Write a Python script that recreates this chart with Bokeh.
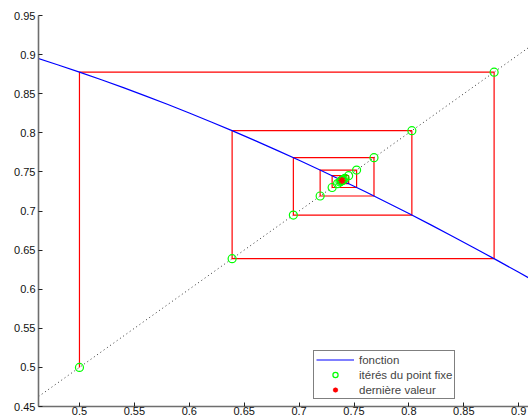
from bokeh.plotting import figure
from bokeh.models import FixedTicker, Legend, LegendItem
from bokeh.embed import file_html
from bokeh.resources import INLINE

# Curve f(x) = cos(x), sampled
curve_x = [0.46, 0.48, 0.50, 0.52, 0.54, 0.56, 0.58, 0.60, 0.62, 0.64, 0.66, 0.68,
           0.70, 0.72, 0.74, 0.76, 0.78, 0.80, 0.82, 0.84, 0.86, 0.88, 0.90, 0.92]
curve_y = [0.896052, 0.886995, 0.877583, 0.867819, 0.857709, 0.847255, 0.836463,
           0.825336, 0.813878, 0.802096, 0.789992, 0.777573, 0.764842, 0.751806,
           0.738469, 0.724836, 0.710914, 0.696707, 0.682221, 0.667463, 0.652437,
           0.637151, 0.621610, 0.605820]

# Fixed-point iterates x_{n+1} = cos(x_n), starting from 0.5
iterates = [0.5, 0.877583, 0.639012, 0.802685, 0.694778, 0.768196, 0.719165,
            0.752356, 0.730081, 0.745120, 0.735006, 0.741827, 0.737236, 0.740330,
            0.738246, 0.739650, 0.738705, 0.739341, 0.738912, 0.739201, 0.739007]

# Diagonal y = x
diag = [0.4627, 0.92]

x_ticks = [0.5, 0.55, 0.6, 0.65, 0.7, 0.75, 0.8, 0.85, 0.9]
x_labels = ["0.5", "0.55", "0.6", "0.65", "0.7", "0.75", "0.8", "0.85", "0.9"]
y_ticks = [0.45, 0.5, 0.55, 0.6, 0.65, 0.7, 0.75, 0.8, 0.85, 0.9, 0.95]
y_labels = ["0.45", "0.5", "0.55", "0.6", "0.65", "0.7", "0.75", "0.8", "0.85", "0.9", "0.95"]

legend_labels = ["fonction", "itérés du point fixe", "dernière valeur"]

# Cobweb path: vertical to the curve, horizontal back to the diagonal
web_x, web_y = [], []
for a, b in zip(iterates[:-1], iterates[1:]):
    web_x += [a, a]
    web_y += [a, b]
web_x.append(iterates[-1])
web_y.append(iterates[-1])

p = figure(width=528, height=419, output_backend="svg", toolbar_location=None,
           x_range=(0.4627, 0.9089), y_range=(0.45, 0.95),
           min_border_left=38, min_border_right=0, min_border_top=15,
           min_border_bottom=13)
p.background_fill_color = "white"
p.border_fill_color = "white"
p.outline_line_color = None
p.xgrid.visible = False
p.ygrid.visible = False

font = "Liberation Sans"
for ax, ticks, labels in ((p.xaxis[0], x_ticks, x_labels), (p.yaxis[0], y_ticks, y_labels)):
    ax.ticker = FixedTicker(ticks=ticks)
    ax.major_label_overrides = {t: l for t, l in zip(ticks, labels)}
    ax.minor_tick_line_color = None
    ax.major_tick_in = 4
    ax.major_tick_out = 0
    ax.axis_line_color = "#6e6e6e"
    ax.axis_line_width = 1.6
    ax.major_tick_line_color = "#222222"
    ax.major_label_text_font = font
    ax.major_label_text_font_size = "11px"
    ax.major_label_text_color = "#111111"
p.yaxis.major_label_standoff = 3
p.xaxis.major_label_standoff = 0

p.line(diag, diag, line_color="#333333", line_dash="1 3", line_width=1)
r_web = p.line(web_x, web_y, line_color="#ff0000", line_width=1.2)
r_f = p.line(curve_x, curve_y, line_color="#0000ff", line_width=1.2)
r_pts = p.scatter(iterates, iterates, marker="circle", size=8, fill_color=None,
                  line_color="#00ff00", line_width=1.2)
r_last = p.scatter([iterates[-1]], [iterates[-1]], marker="asterisk", size=7,
                   line_color="#ff0000", line_width=1.5)

legend = Legend(items=[LegendItem(label=legend_labels[0], renderers=[r_f]),
                       LegendItem(label=legend_labels[1], renderers=[r_pts]),
                       LegendItem(label=legend_labels[2], renderers=[r_last])],
                location=(275, 7))
legend.label_text_font = font
legend.label_text_font_size = "11.5px"
legend.label_height = 13
legend.glyph_height = 13
legend.glyph_width = 38
legend.label_standoff = 5
legend.spacing = 2
legend.padding = 2
legend.margin = 0
legend.border_line_color = "black"
legend.border_line_width = 1
legend.background_fill_alpha = 1
p.add_layout(legend, "center")

open("out.html", "w").write(file_html(p, INLINE))
